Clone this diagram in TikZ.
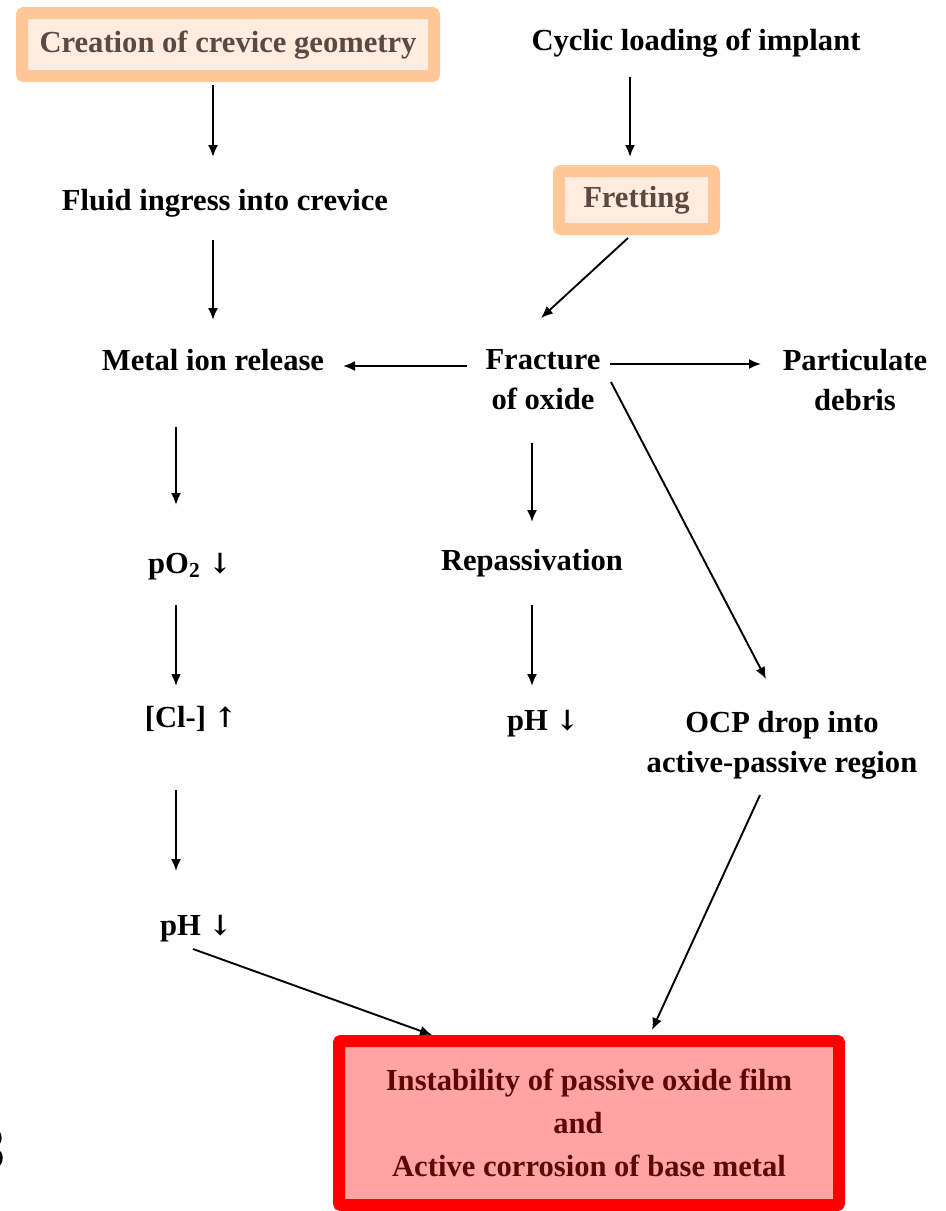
\documentclass[tikz,border=0pt]{standalone}
\usepackage{fontspec}
\setmainfont{Liberation Serif}
\newfontfamily\figsans{Liberation Sans}
\newfontfamily\arrfont{DejaVu Serif}
\usetikzlibrary{arrows.meta}
\definecolor{obord}{HTML}{FFC896}
\definecolor{ofill}{HTML}{FDEDE0}
\definecolor{otext}{HTML}{5A4A40}
\definecolor{rbord}{HTML}{FF0000}
\definecolor{rfill}{HTML}{FFA4A4}
\definecolor{rtext}{HTML}{5C0808}
\newcommand{\dnarr}{{\arrfont\fontsize{14}{14}\selectfont ↓}}
\newcommand{\uparr}{{\arrfont\fontsize{14}{14}\selectfont ↑}}
\begin{document}
\begin{tikzpicture}[x=0.5pt,y=-0.5pt,
  lbl/.style={font=\bfseries\fontsize{15.3}{20}\selectfont, inner sep=0pt, align=center},
  one/.style={text height=10.5pt, text depth=3pt},
  obox/.style={lbl, one, draw=obord, line width=6pt, fill=ofill, rounded corners=1pt, text=otext},
  rbox/.style={lbl, draw=rbord, line width=6pt, fill=rfill, rounded corners=1pt, text=rtext},
  arr/.style={-{Latex[length=6pt,width=5pt]}, line width=0.95pt},
]
\useasboundingbox (0,0) rectangle (946,1211);

% nodes
\node[obox, minimum width=206pt, minimum height=31.5pt] (creation) at (228,44.5) {Creation of crevice geometry};
\node[lbl, one] (cyclic) at (696,43) {Cyclic loading of implant};
\node[lbl, one] (fluid) at (225,203) {Fluid ingress into crevice};
\node[obox, minimum width=77.5pt, minimum height=29pt] (fretting) at (636.5,200) {Fretting};
\node[lbl, one] (metal) at (213,363) {Metal ion release};
\node[lbl] (fracture) at (543,380) {Fracture\\of oxide};
\node[lbl] (debris) at (855,380) {Particulate\\debris};
\node[lbl, one] (po2) at (190,566) {pO\textsubscript{2} \dnarr};
\node[lbl, one] (repass) at (532,563) {Repassivation};
\node[lbl, one] (cl) at (191,720) {[Cl-] \uparr};
\node[lbl, one] (ph2) at (543,723) {pH \dnarr};
\node[lbl] (ocp) at (782,745) {OCP drop into\\active-passive region};
\node[lbl, one] (ph1) at (196,928) {pH \dnarr};
\node[rbox, minimum width=250pt, minimum height=82pt, font=\bfseries\fontsize{15.3}{21.5}\selectfont] (result) at (589,1123)
  {Instability of passive oxide film\\\hspace*{-11pt}and\\Active corrosion of base metal};
\node[anchor=east, inner sep=0pt, font=\figsans\fontsize{30}{30}\selectfont] (fig) at (6,1149) {3};

% connectors
\draw[arr] ([xshift=-7.5pt,yshift=-20.25pt]creation.center) -- ([xshift=-6pt,yshift=23pt]fluid.center);
\draw[arr] ([xshift=-33pt,yshift=-17pt]cyclic.center) -- ([xshift=-3.25pt,yshift=21.5pt]fretting.center);
\draw[arr] ([xshift=-6pt,yshift=-18.5pt]fluid.center) -- ([yshift=21.5pt]metal.center);
\draw[arr] ([xshift=-4.25pt,yshift=-19pt]fretting.center) -- ([xshift=-1pt,yshift=31pt]fracture.center);
\draw[arr] ([xshift=-38pt,yshift=7pt]fracture.center) -- ([xshift=65pt,yshift=-1.5pt]metal.center);
\draw[arr] ([xshift=33.5pt,yshift=8pt]fracture.center) -- ([xshift=-47pt,yshift=8pt]debris.center);
\draw[arr] ([xshift=34pt,yshift=-1pt]fracture.center) -- ([xshift=-8pt,yshift=33pt]ocp.center);
\draw[arr] ([xshift=-18.5pt,yshift=-32pt]metal.center) -- ([xshift=-7pt,yshift=30.5pt]po2.center);
\draw[arr] ([xshift=-5.5pt,yshift=-31.5pt]fracture.center) -- ([yshift=20.5pt]repass.center);
\draw[arr] ([xshift=-7pt,yshift=-19.5pt]po2.center) -- ([xshift=-7.5pt,yshift=17pt]cl.center);
\draw[arr] ([yshift=-21pt]repass.center) -- ([xshift=-5.5pt,yshift=18.5pt]ph2.center);
\draw[arr] ([xshift=-7.5pt,yshift=-35pt]cl.center) -- ([xshift=-10pt,yshift=28.5pt]ph1.center);
\draw[arr] ([xshift=-1.5pt,yshift=-10.5pt]ph1.center) -- ([xshift=-78.5pt,yshift=44pt]result.center);
\draw[arr] ([xshift=-11pt,yshift=-25pt]ocp.center) -- ([xshift=31.5pt,yshift=46.5pt]result.center);
\end{tikzpicture}
\end{document}
